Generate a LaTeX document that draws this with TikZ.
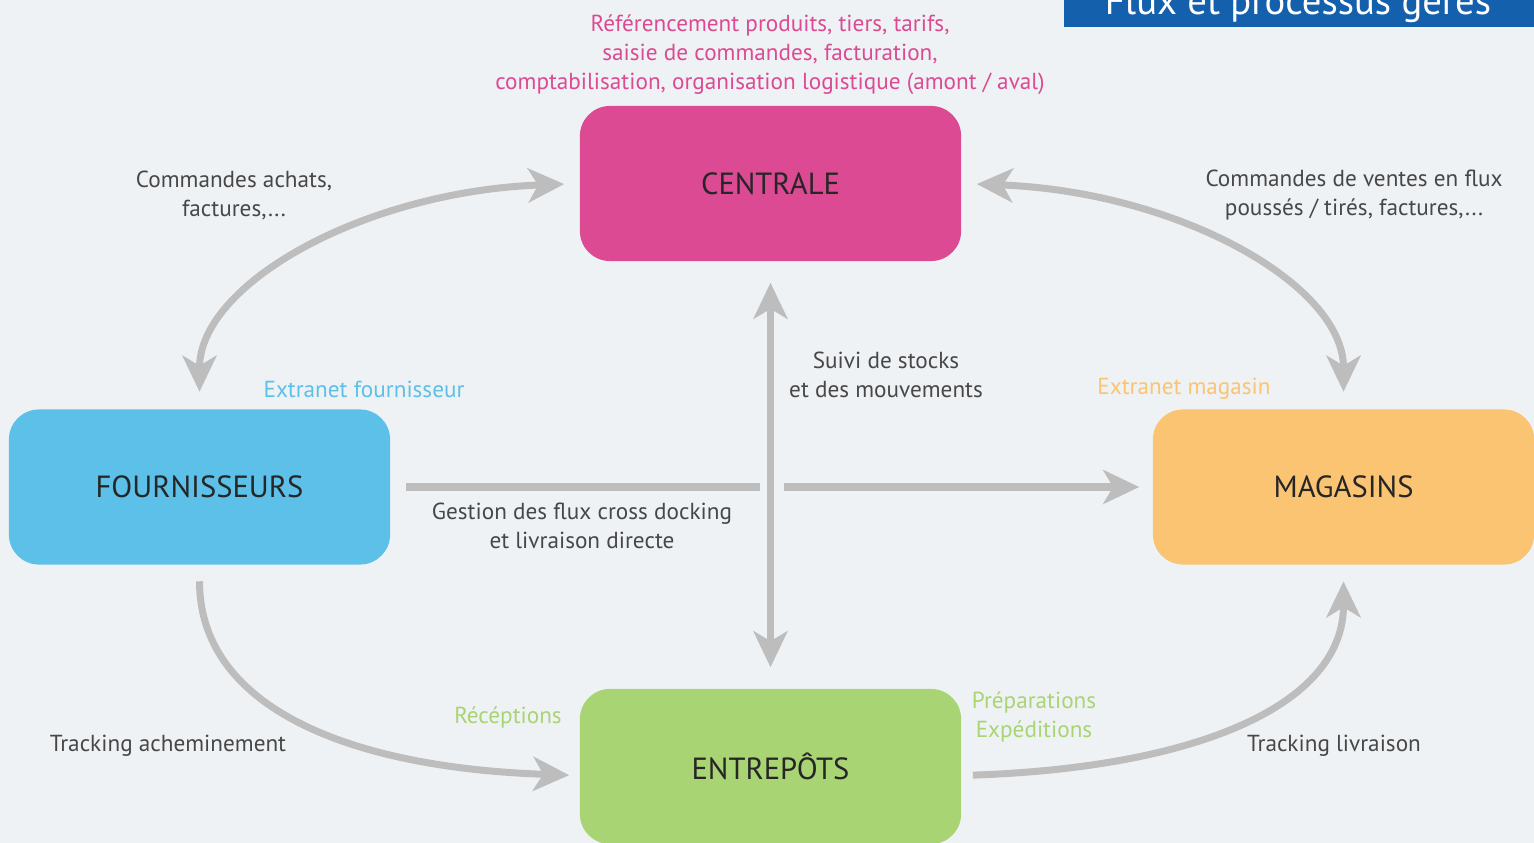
\documentclass[tikz,border=0pt]{standalone}
\usepackage{fontspec}
\setmainfont{PT Sans}
\usepackage{tikz}
\usetikzlibrary{arrows.meta}
\definecolor{centralepink}{HTML}{DB4A92}
\definecolor{fournblue}{HTML}{5CC0E8}
\definecolor{magorange}{HTML}{FAC473}
\definecolor{entrgreen}{HTML}{A9D474}
\definecolor{titleblue}{HTML}{1560AC}
\definecolor{backwhite}{HTML}{EFF2F5}
\def\lblfont{\fontsize{6.6}{8.25}\selectfont}
\def\boxfont{\fontsize{8.7}{10}\selectfont}

\begin{document}
\begin{tikzpicture}[x=0.01cm, y=-0.01cm,
		site/.style={minimum width=3.81cm, minimum height=1.55cm, rounded corners=0.3cm, text=black!85, font=\boxfont},
		lbl/.style={align=center, text=black!72, font=\lblfont},
		flux/.style={line width=0.07cm, color=black!26, >={Stealth[length=0.36cm, width=0.34cm, inset=0.1cm]}}]
			%%%%% START %%%%%
			
			\useasboundingbox (0, 0) rectangle (1534, 843);
			\fill[backwhite] (0, 0) rectangle (1534, 843);
			
			% title band, cut at the top
			\fill[titleblue] (1064, 0) rectangle (1534, 27);
			\begin{scope}
				\clip (1064, 0) rectangle (1534, 27);
				\node[anchor=base, text=white, font=\fontsize{11}{12}\selectfont] (titre) at (1298, 15) {Flux et processus gérés};
			\end{scope}
			
			\node[site, fill=centralepink] (centrale) at (770.5, 183.5) {CENTRALE};
			\node[site, fill=fournblue] (fourn) at (199.5, 487) {FOURNISSEURS};
			\node[site, fill=magorange] (magasins) at (1343.5, 487) {MAGASINS};
			\node[site, fill=entrgreen] (entrepots) at (770.5, 766.5) {ENTREPÔTS};
			
			\node[lbl, text=centralepink] (refs) at (770, 55) {Référencement produits, tiers, tarifs,\\saisie de commandes, facturation,\\comptabilisation, organisation logistique (amont / aval)};
			\node[lbl] (achats) at (234, 195.5) {Commandes achats,\\factures,...};
			\node[lbl] (ventes) at (1354, 195.5) {Commandes de ventes en flux\\poussés / tirés, factures,...};
			\node[lbl, text=fournblue] (extfourn) at (364, 389) {Extranet fournisseur};
			\node[lbl, text=magorange] (extmag) at (1184, 389) {Extranet magasin};
			\node[lbl] (suivi) at (886, 374.5) {Suivi de stocks\\et des mouvements};
			\node[lbl] (gestion) at (582, 526) {Gestion des flux cross docking\\et livraison directe};
			\node[lbl] (trackach) at (168, 746) {Tracking acheminement};
			\node[lbl, text=entrgreen] (recep) at (508, 717) {Récéptions};
			\node[lbl, text=entrgreen] (prepa) at (1034, 716.5) {Préparations\\Expéditions};
			\node[lbl] (tracklivr) at (1334, 746) {Tracking livraison};
			
			\coordinate (gapleft) at (760, 487);
			\coordinate (gapright) at (784, 487);
			
			% flux around the centrale
			\draw[flux, <->, shorten <=0.17cm, shorten >=0.15cm] (fourn.north) .. controls +(0, -125) and +(-215, 8) .. (centrale.west);
			\draw[flux, <->, shorten <=0.17cm, shorten >=0.15cm] (magasins.north) .. controls +(0, -125) and +(215, 8) .. (centrale.east);
			\draw[flux, <->, shorten <=0.21cm, shorten >=0.21cm] (centrale.south) -- (entrepots.north);
			
			% flux through the entrepots
			\draw[flux, ->, shorten <=0.16cm, shorten >=0.1cm] (fourn.south) .. controls +(0, 140) and +(-235, -8) .. ([yshift=-0.09cm]entrepots.west);
			\draw[flux, ->, shorten <=0.11cm, shorten >=0.16cm] ([yshift=-0.09cm]entrepots.east) .. controls +(235, -8) and +(0, 140) .. (magasins.south);
			
			% cross docking
			\draw[flux, shorten <=0.15cm] (fourn.east) -- (gapleft);
			\draw[flux, ->, shorten >=0.13cm] (gapright) -- (magasins.west);
			
			%%%%% END %%%%%
		\end{tikzpicture}
\end{document}
